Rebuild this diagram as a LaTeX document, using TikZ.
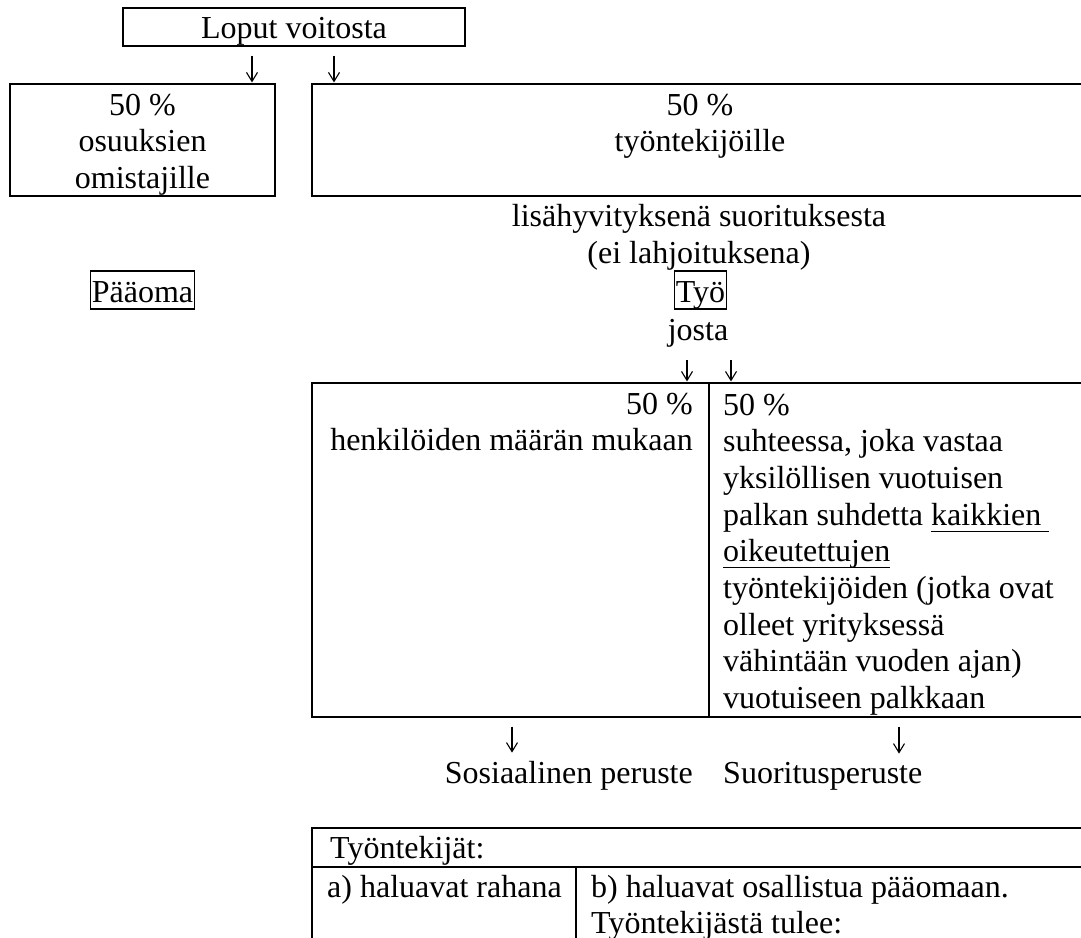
\documentclass[tikz,border=0pt]{standalone}
\usepackage{fontspec}
\setmainfont{Liberation Serif}
\usetikzlibrary{positioning,calc,arrows.meta}
\tikzstyle{frame} = [draw, line width=1.1pt, inner sep=0pt]
\tikzstyle{txt} = [inner sep=0pt]
\tikzstyle{arrow} = [line width=1.1pt,-{Straight Barb[length=9pt,width=11pt]}]
\newcommand{\undr}[1]{\setbox0\hbox{#1}\rlap{\rule[-6.5pt]{\wd0}{1.1pt}}\box0}

\begin{document}
\begin{tikzpicture}[x=1pt,y=-1pt,font=\fontsize{32}{36.7}\selectfont]
\useasboundingbox (0,0) rectangle (1081,937);
\clip (0,0) rectangle (1081,937);
% top level
\node (loput) [frame, minimum width=342, minimum height=38, text height=30, text depth=8] at (294,27) {Loput voitosta};
\node (own) [frame, minimum width=265, minimum height=112] at (142.5,140) {};
\node (tyon) [frame, minimum width=776, minimum height=112] at (700,140) {};
% base = last line
\node (own-t) [txt, align=center, anchor=base] at (142.5,188.4) {50 \%\\osuuksien\\omistajille};
\node (tyon-t) [txt, align=center, anchor=base] at (700,151.7) {50 \%\\työntekijöille};
\coordinate (a1) at (252,0);
\coordinate (a2) at (334,0);
\draw[arrow, shorten <=9pt, shorten >=1pt] (loput.south -| a1) -- (own.north -| a1);
\draw[arrow, shorten <=9pt, shorten >=1pt] (loput.south -| a2) -- (tyon.north -| a2);
% capital / labour
\node (lisa) [txt, align=center, anchor=base] at (699,263.5) {lisähyvityksenä suorituksesta\\(ei lahjoituksena)};
\node (paaoma) [frame, inner xsep=1pt, minimum height=38, text height=31, text depth=7] at (142.5,290) {Pääoma};
\node (tyo) [frame, inner xsep=1pt, minimum height=38, text height=31, text depth=7] at (700.5,290) {Työ};
\node (josta) [txt, anchor=base] at (698,340) {josta};
% split of the labour share
\node (jako) [frame, minimum width=788, minimum height=334] at (706,550) {};
\coordinate (div) at (709,0);
\draw[line width=1.1pt] (jako.north -| div) -- (jako.south -| div);
\coordinate (b1) at (687,0);
\coordinate (b2) at (731,0);
\draw[arrow, shorten <=13pt, shorten >=1pt] (josta.south -| b1) -- (jako.north -| b1);
\draw[arrow, shorten <=13pt, shorten >=1pt] (josta.south -| b2) -- (jako.north -| b2);
\node (hlo) [txt, align=right, anchor=base east] at (693,450.7) {50 \%\\henkilöiden määrän mukaan};
\node (palkka) [txt, align=left, anchor=base west] at (723,708.6) {50 \%\\suhteessa, joka vastaa\\yksilöllisen vuotuisen\\palkan suhdetta \undr{kaikkien\ }\\\undr{oikeutettujen}\\työntekijöiden (jotka ovat\\olleet yrityksessä\\vähintään vuoden ajan)\\vuotuiseen palkkaan};
\node (sos) [txt, anchor=base east] at (693,783) {Sosiaalinen peruste};
\node (suor) [txt, anchor=base west] at (723,783) {Suoritusperuste};
\coordinate (c1) at (512,0);
\coordinate (c2) at (899,0);
\draw[arrow, shorten <=9pt, shorten >=8pt] (jako.south -| c1) -- (sos.north -| c1);
\draw[arrow, shorten <=9pt, shorten >=8pt] (jako.south -| c2) -- (suor.north -| c2);
% employees
\node (tyont) [frame, minimum width=788, minimum height=132] at (706,894) {};
\coordinate (row) at (0,867);
\coordinate (div2) at (576,0);
\draw[line width=1.1pt] (tyont.west |- row) -- (tyont.east |- row);
\draw[line width=1.1pt] (div2 |- row) -- (tyont.south -| div2);
\node (tyont-t) [txt, anchor=base west] at (330,858) {Työntekijät:};
\node (raha) [txt, anchor=base west] at (327,897) {a) haluavat rahana};
\node (osall) [txt, align=left, anchor=base west] at (591,933.7) {b) haluavat osallistua pääomaan.\\Työntekijästä tulee:};
\end{tikzpicture}
\end{document}
